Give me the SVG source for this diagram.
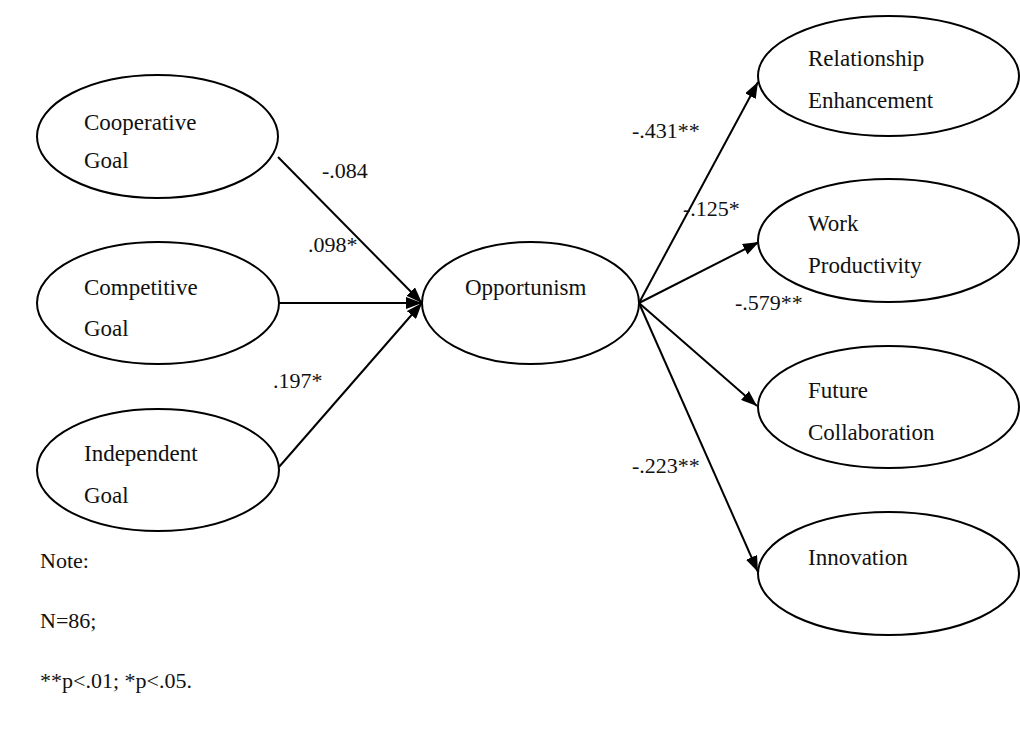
<svg xmlns="http://www.w3.org/2000/svg" width="1020" height="736" viewBox="0 0 1020 736">
<style>
.node{fill:#fff;stroke:#000;stroke-width:2}
.t{font-family:"Liberation Serif","Times New Roman",serif;font-size:23px;fill:#111}
.l{font-family:"Liberation Serif","Times New Roman",serif;font-size:22px;fill:#111}
.c{stroke:#000;stroke-width:2;fill:none;marker-end:url(#arr)}
</style>
<defs>
<marker id="arr" markerUnits="userSpaceOnUse" viewBox="0 0 16 12" markerWidth="16" markerHeight="12" refX="16" refY="6" orient="auto">
<path d="M0,0 L16,6 L0,12 z" fill="#000"/>
</marker>
</defs>
<rect width="1020" height="736" fill="#fff"/>
<g id="connectors">
<line class="c" x1="278" y1="157" x2="422" y2="303"/>
<line class="c" x1="279" y1="303" x2="422" y2="303"/>
<line class="c" x1="279" y1="467" x2="422" y2="303"/>
<line class="c" x1="639" y1="303" x2="758" y2="82"/>
<line class="c" x1="639" y1="303" x2="759" y2="242"/>
<line class="c" x1="639" y1="303" x2="757" y2="406"/>
<line class="c" x1="639" y1="303" x2="758" y2="572"/>
</g>
<g id="cooperative">
<ellipse class="node" cx="157.5" cy="136.5" rx="120.5" ry="61.5"/>
<text class="t" x="84" y="130">Cooperative</text>
<text class="t" x="84" y="168">Goal</text>
</g>
<g id="competitive">
<ellipse class="node" cx="158" cy="303" rx="121" ry="61"/>
<text class="t" x="84" y="295">Competitive</text>
<text class="t" x="84" y="336">Goal</text>
</g>
<g id="independent">
<ellipse class="node" cx="158" cy="470" rx="121" ry="61"/>
<text class="t" x="84" y="461">Independent</text>
<text class="t" x="84" y="503">Goal</text>
</g>
<g id="opportunism">
<ellipse class="node" cx="530.5" cy="303" rx="108.5" ry="61"/>
<text class="t" x="465" y="295">Opportunism</text>
</g>
<g id="relationship">
<ellipse class="node" cx="888.5" cy="76" rx="130.5" ry="60"/>
<text class="t" x="808" y="66">Relationship</text>
<text class="t" x="808" y="108">Enhancement</text>
</g>
<g id="work">
<ellipse class="node" cx="888.5" cy="240.5" rx="130.5" ry="61.5"/>
<text class="t" x="808" y="231">Work</text>
<text class="t" x="808" y="273">Productivity</text>
</g>
<g id="future">
<ellipse class="node" cx="888.5" cy="407" rx="130.5" ry="61"/>
<text class="t" x="808" y="398">Future</text>
<text class="t" x="808" y="440">Collaboration</text>
</g>
<g id="innovation">
<ellipse class="node" cx="888.5" cy="573.5" rx="130.5" ry="61.5"/>
<text class="t" x="808" y="565">Innovation</text>
</g>
<g id="labels">
<text class="l" x="322" y="178">-.084</text>
<text class="l" x="308" y="252">.098*</text>
<text class="l" x="273" y="388">.197*</text>
<text class="l" x="632" y="138">-.431**</text>
<text class="l" x="683" y="216">-.125*</text>
<text class="l" x="735" y="310">-.579**</text>
<text class="l" x="632" y="473">-.223**</text>
</g>
<g id="note">
<text class="l" x="40" y="568">Note:</text>
<text class="l" x="40" y="628">N=86;</text>
<text class="l" x="40" y="688">**p&lt;.01; *p&lt;.05.</text>
</g>
</svg>
